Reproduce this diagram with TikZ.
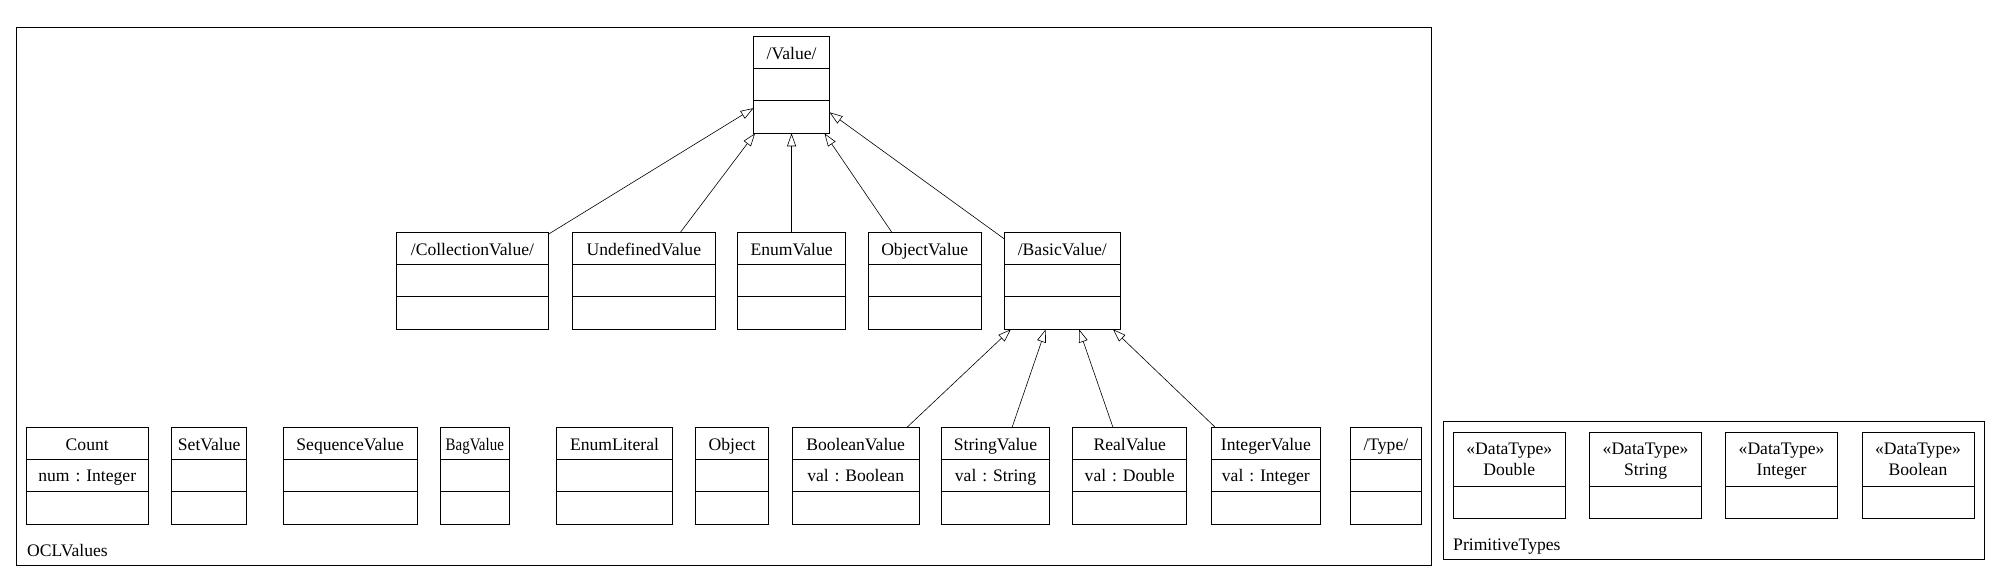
\documentclass[tikz,border=0pt]{standalone}
\usepackage{fontspec}
\setmainfont{Liberation Serif}
\usepackage{graphicx}
\usepackage{tikz}
\usetikzlibrary{positioning}
\usetikzlibrary{arrows.meta}
\usetikzlibrary{shapes.multipart}
\frenchspacing
\newcommand{\namestrut}{\rule[-9pt]{0pt}{31.5pt}}
\newcommand{\attrstrut}{\rule[-10pt]{0pt}{31pt}}
\newcommand{\opstrut}{\rule{0pt}{31.5pt}}
\tikzset{basic/.style={draw,line width=1pt,inner sep=0pt,outer sep=0pt,align=center,font=\fontsize{17.6pt}{20.7pt}\selectfont}}
\tikzset{classbox/.style={basic,rectangle split,rectangle split parts=3,text width=#1}}
\tikzset{datatype/.style={basic,rectangle split,rectangle split parts=2,text width=112pt}}
\tikzset{generalization/.style={draw,line width=0.6pt,-{Triangle[open,length=13pt,width=9pt]}}}
\tikzset{package/.style={draw,line width=1pt}}
\tikzset{packagename/.style={anchor=base west,inner sep=0pt,font=\fontsize{17.6pt}{20.7pt}\selectfont}}

\begin{document}
\begin{tikzpicture}[x=1pt,y=-1pt]
        \useasboundingbox (0,0) rectangle (2000,581);
        % OCLValues package
        \draw[package] (16,27.3) rectangle (1431.7,565.7);
        \node[packagename] (ocllabel) at (27,556) {OCLValues};
        % second row
        \node[classbox=151.6pt,anchor=north west] (collection) at (396.7,232.3) {\namestrut/CollectionValue/\nodepart{two}\attrstrut\nodepart{three}\opstrut};
        \node[classbox=143.2pt,right=24pt of collection] (undefined) {\namestrut UndefinedValue\nodepart{two}\attrstrut\nodepart{three}\opstrut};
        \node[classbox=108.1pt,right=22pt of undefined] (enum) {\namestrut EnumValue\nodepart{two}\attrstrut\nodepart{three}\opstrut};
        \node[classbox=112.5pt,right=22.9pt of enum] (objectvalue) {\namestrut ObjectValue\nodepart{two}\attrstrut\nodepart{three}\opstrut};
        \node[classbox=116pt,right=23.3pt of objectvalue] (basic) {\namestrut/BasicValue/\nodepart{two}\attrstrut\nodepart{three}\opstrut};
        % top
        \node[classbox=76pt,above=99pt of enum] (value) {\namestrut/Value/\nodepart{two}\attrstrut\nodepart{three}\opstrut};
            \path[generalization] (collection) -- (value);
            \path[generalization] (undefined) -- (value);
            \path[generalization] (enum) -- (value);
            \path[generalization] (objectvalue) -- (value);
            \path[generalization] (basic) -- (value);
        % third row
        \node[classbox=122.5pt,anchor=north west] (count) at (26,427.3) {\namestrut Count\nodepart{two}\attrstrut num : Integer\nodepart{three}\opstrut};
        \node[classbox=75.2pt,right=23.1pt of count] (setvalue) {\namestrut SetValue\nodepart{two}\attrstrut\nodepart{three}\opstrut};
        \node[classbox=133.9pt,right=36.4pt of setvalue] (sequence) {\namestrut SequenceValue\nodepart{two}\attrstrut\nodepart{three}\opstrut};
        \node[classbox=69.6pt,right=22.9pt of sequence] (bag) {\namestrut\scalebox{0.85}[1]{BagValue}\nodepart{two}\attrstrut\nodepart{three}\opstrut};
        \node[classbox=115.4pt,right=47.2pt of bag] (enumliteral) {\namestrut EnumLiteral\nodepart{two}\attrstrut\nodepart{three}\opstrut};
        \node[classbox=72.7pt,right=23.6pt of enumliteral] (object) {\namestrut Object\nodepart{two}\attrstrut\nodepart{three}\opstrut};
        \node[classbox=127.3pt,right=23.5pt of object] (boolean) {\namestrut BooleanValue\nodepart{two}\attrstrut val : Boolean\nodepart{three}\opstrut};
        \node[classbox=107.6pt,right=22.4pt of boolean] (string) {\namestrut StringValue\nodepart{two}\attrstrut val : String\nodepart{three}\opstrut};
        \node[classbox=114pt,right=23.4pt of string] (real) {\namestrut RealValue\nodepart{two}\attrstrut val : Double\nodepart{three}\opstrut};
        \node[classbox=108.3pt,right=25pt of real] (integer) {\namestrut IntegerValue\nodepart{two}\attrstrut val : Integer\nodepart{three}\opstrut};
        \node[classbox=71.7pt,right=30pt of integer] (type) {\namestrut/Type/\nodepart{two}\attrstrut\nodepart{three}\opstrut};
            \path[generalization] (boolean) -- (basic);
            \path[generalization] (string) -- (basic);
            \path[generalization] (real) -- (basic);
            \path[generalization] (integer) -- (basic);
        % PrimitiveTypes package
        \draw[package] (1443,421) rectangle (1984,559.5);
        \node[packagename] (primlabel) at (1453,550) {PrimitiveTypes};
        \node[datatype,anchor=north west] (double) at (1453.3,432.3) {\rule{0pt}{22pt}«DataType»\\Double\rule[-10.2pt]{0pt}{10.2pt}\nodepart{two}\opstrut};
        \node[datatype,right=24.3pt of double] (stringdt) {\rule{0pt}{22pt}«DataType»\\String\rule[-10.2pt]{0pt}{10.2pt}\nodepart{two}\opstrut};
        \node[datatype,right=24pt of stringdt] (integerdt) {\rule{0pt}{22pt}«DataType»\\Integer\rule[-10.2pt]{0pt}{10.2pt}\nodepart{two}\opstrut};
        \node[datatype,right=24.4pt of integerdt] (booleandt) {\rule{0pt}{22pt}«DataType»\\Boolean\rule[-10.2pt]{0pt}{10.2pt}\nodepart{two}\opstrut};
    \end{tikzpicture}
\end{document}
